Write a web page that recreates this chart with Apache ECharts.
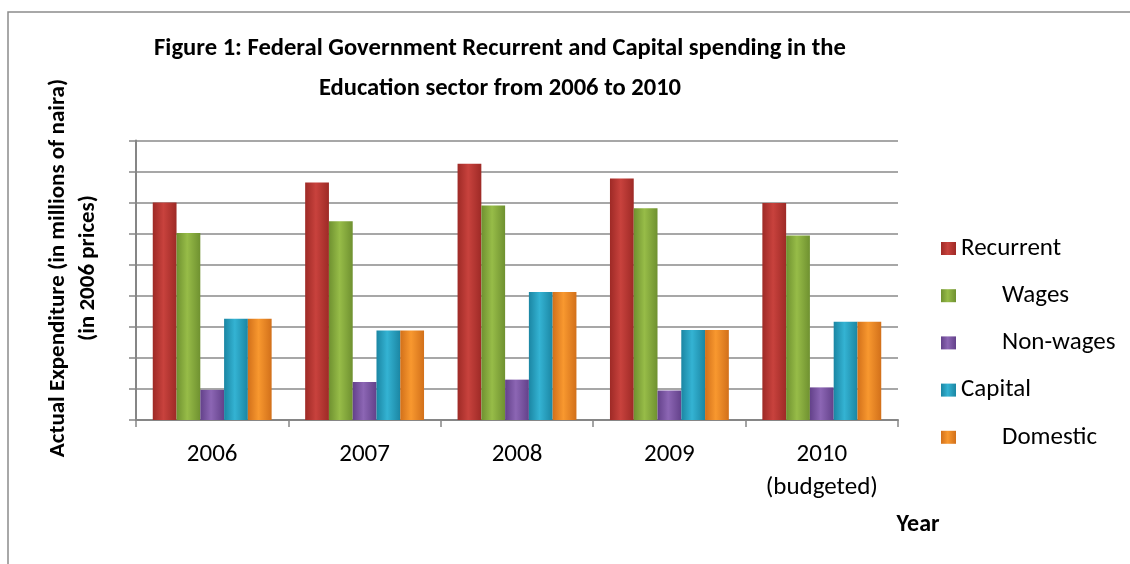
<!DOCTYPE html>
<html>
<head>
<meta charset="utf-8">
<script src="https://cdn.jsdelivr.net/npm/echarts@6/dist/echarts.min.js"></script>
<style>
html,body{margin:0;padding:0;background:#fff;}
#c{width:1130px;height:564px;}
</style>
</head>
<body>
<div id="c"></div>
<script>
var categories = ['2006', '2007', '2008', '2009', '2010\n(budgeted)'];
var recurrent = [7.0, 7.65, 8.25, 7.78, 6.99];
var wages     = [6.02, 6.4, 6.91, 6.82, 5.94];
var nonWages  = [0.97, 1.22, 1.30, 0.95, 1.05];
var capital   = [3.26, 2.88, 4.12, 2.90, 3.16];
var domestic  = [3.26, 2.88, 4.12, 2.90, 3.16];
var seriesNames = ['Recurrent', 'Wages', 'Non-wages', 'Capital', 'Domestic'];
var indented = ['Wages', 'Non-wages', 'Domestic'];

var FONT = 'Carlito, Calibri, Lato, sans-serif';

function grad(edge, mid) {
  return new echarts.graphic.LinearGradient(0, 0, 1, 0, [
    {offset: 0, color: edge},
    {offset: 0.45, color: mid},
    {offset: 1, color: edge}
  ]);
}
var colors = [
  grad('#9E2A26', '#C8423D'),
  grad('#6F9130', '#97BC48'),
  grad('#63418A', '#8C66B4'),
  grad('#1B86A3', '#34B3D3'),
  grad('#D2701A', '#F8982F')
];
var dataSets = [recurrent, wages, nonWages, capital, domestic];

var chart = echarts.init(document.getElementById('c'));
chart.setOption({
  animation: false,
  backgroundColor: '#fff',
  grid: {left: 136, right: 232, top: 140.5, bottom: 144, containLabel: false},
  xAxis: {
    type: 'category',
    data: categories,
    axisLine: {lineStyle: {color: '#868686', width: 2}},
    axisTick: {show: true, length: 7, lineStyle: {color: '#868686', width: 1.5}},
    axisLabel: {color: '#000', fontFamily: FONT, fontSize: 25, lineHeight: 33, margin: 18}
  },
  yAxis: {
    type: 'value', min: 0, max: 9, interval: 1,
    axisLine: {show: true, lineStyle: {color: '#868686', width: 2}},
    axisTick: {show: true, length: 7, lineStyle: {color: '#868686', width: 1.5}},
    axisLabel: {show: false},
    splitLine: {show: true, lineStyle: {color: '#8a8a8a', width: 1.5}}
  },
  legend: {
    orient: 'vertical',
    left: 941, top: 236,
    padding: 0,
    itemWidth: 15, itemHeight: 13,
    itemGap: 22.2,
    icon: 'rect',
    textStyle: {color: '#000', fontFamily: FONT, fontSize: 25, lineHeight: 24,
      rich: {ind: {padding: [0, 0, 0, 41], color: '#000', fontFamily: FONT, fontSize: 25, lineHeight: 24}}},
    formatter: function (name) {
      return indented.indexOf(name) >= 0 ? '{ind|' + name + '}' : name;
    },
    data: seriesNames
  },
  series: seriesNames.map(function (n, i) {
    return {
      name: n, type: 'bar', data: dataSets[i],
      barGap: '0%', barCategoryGap: '22%',
      itemStyle: {color: colors[i]}
    };
  }),
  graphic: [
    {type: 'rect', silent: true, shape: {x: 8, y: 12, width: 1300, height: 700},
     style: {fill: 'none', stroke: '#8c8c8c', lineWidth: 1.5}},
    {type: 'text', x: 500, y: 29, silent: true,
     style: {text: 'Figure 1: Federal Government Recurrent and Capital spending in the\nEducation sector from 2006 to 2010',
       align: 'center', verticalAlign: 'top', fill: '#000', fontFamily: FONT, fontWeight: 'bold', fontSize: 24.6, lineHeight: 40}},
    {type: 'text', x: 73, y: 268, rotation: Math.PI / 2, silent: true,
     style: {text: 'Actual Expenditure (in millions of naira)\n(in 2006 prices)',
       align: 'center', verticalAlign: 'middle', fill: '#000', fontFamily: FONT, fontWeight: 'bold', fontSize: 23, lineHeight: 30}},
    {type: 'text', x: 918, y: 525, silent: true,
     style: {text: 'Year', align: 'center', verticalAlign: 'middle', fill: '#000', fontFamily: FONT, fontWeight: 'bold', fontSize: 24}}
  ]
});
</script>
</body>
</html>
